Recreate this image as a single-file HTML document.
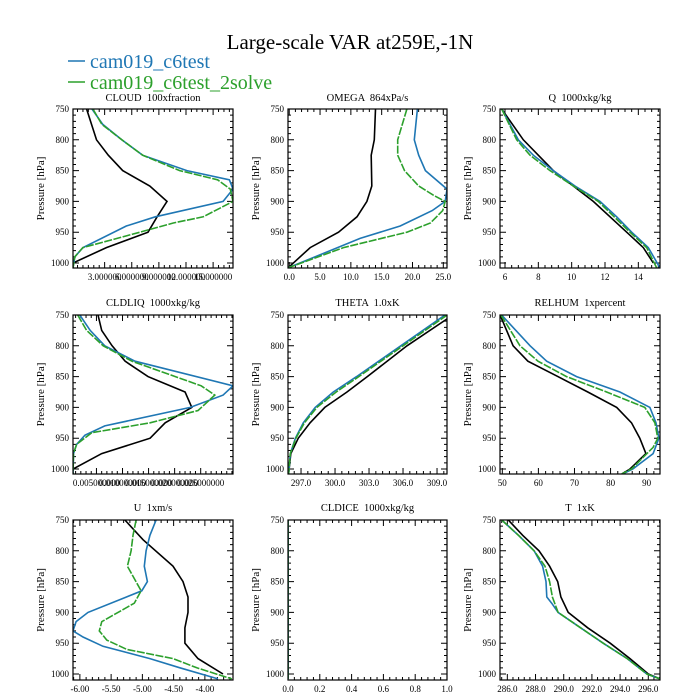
<!DOCTYPE html>
<html><head><meta charset="utf-8"><style>
html,body{margin:0;padding:0;background:#fff;}
svg{display:block;font-family:"Liberation Serif",serif;}
text{white-space:pre;}
</style></head><body>
<svg id="chart" width="700" height="700" viewBox="0 0 700 700">
<text x="350" y="49" text-anchor="middle" font-size="21">Large-scale VAR at259E,-1N</text>
<g>
<line x1="68" y1="61" x2="85" y2="61" stroke="#1f77b4" stroke-width="1.5"/>
<text x="90" y="68" font-size="20" fill="#1f77b4">cam019_c6test</text>
<line x1="68" y1="82" x2="85" y2="82" stroke="#2ca02c" stroke-width="1.5"/>
<text x="90" y="89" font-size="20" fill="#2ca02c">cam019_c6test_2solve</text>
</g>
</svg>
<script>
// ---- data ----
const cloudP_ref=[750,800,825,850,875,900,925,950,975,1000];
const cloudV_ref=[1.0,2.1,3.4,5.0,8.0,9.9,8.8,7.8,3.2,-0.5];
const cloudP_a=[750,775,800,825,850,865,880,900,925,940,975,990,1008];
const cloudV_a=[1.6,2.8,4.9,7.2,12.1,16.8,17.2,16.1,8.6,5.4,0.6,-0.3,-0.5];
const cloudP_b=[750,775,800,825,850,865,880,900,925,935,950,975,990,1008];
const cloudV_b=[1.7,2.7,4.9,7.2,11.3,15.5,16.9,17.2,13.9,10.6,6.9,0.6,-0.3,-0.5];
const cloudTicks=[3,6,9,12,15];
const cloudTickLabels=["3.000000","6.000000","9.000000","12.000000","15.000000"];

const omegaP_ref=[750,800,825,875,900,925,950,975,1008];
const omegaV_ref=[14.0,13.8,13.3,13.4,12.6,11.0,8.0,3.4,-0.2];
const omegaP_a=[750,800,825,850,880,900,915,940,960,1008];
const omegaV_a=[20.8,20.3,21.0,22.1,25.6,25.3,23.2,18.0,11.5,-0.2];
const omegaP_b=[750,800,825,850,875,890,900,915,935,950,975,1008];
const omegaV_b=[19.1,17.6,17.6,18.7,21.0,23.4,25.3,24.9,22.9,19.1,8.8,-0.2];
const omegaTicks=[0,5,10,15,20,25];
const omegaTickLabels=["0.0","5.0","10.0","15.0","20.0","25.0"];

const qP_ref=[750,800,850,900,950,975,1000];
const qV_ref=[5.8,7.1,8.9,11.3,13.3,14.3,14.9];
const qP_a=[750,800,825,850,875,900,925,950,975,1008];
const qV_a=[5.8,6.8,7.7,8.9,10.2,11.7,12.7,13.6,14.6,15.3];
const qP_b=[750,800,825,850,875,900,950,975,1008];
const qV_b=[5.8,6.7,7.5,8.7,10.1,11.6,13.5,14.5,15.1];
const qTicks=[6,8,10,12,14];
const qTickLabels=["6","8","10","12","14"];

const liqP_ref=[750,775,800,825,850,875,900,925,950,975,1000];
const liqV_ref=[0.0053,0.0060,0.0080,0.0105,0.0149,0.0220,0.0233,0.0182,0.0153,0.0060,0.0005];
const liqP_a=[750,775,800,825,865,880,900,930,945,960,975,1008];
const liqV_a=[0.0018,0.0038,0.0066,0.0124,0.0312,0.0293,0.0230,0.0066,0.0028,0.0012,0.0006,0.0005];
const liqP_b=[750,775,800,825,865,880,905,925,941,960,975,1008];
const liqV_b=[0.0014,0.0031,0.0063,0.0118,0.0251,0.0277,0.0245,0.0153,0.0041,0.0012,0.0006,0.0005];
const liqTicks=[0.005,0.010,0.015,0.020,0.025];
const liqTickLabels=["0.005000000","0.010000000","0.015000000","0.020000000","0.025000000"];

const thetaP_ref=[750,800,850,875,900,925,950,975,1008];
const thetaV_ref=[310.4,306.35,302.85,301.06,299.1,297.8,296.76,296.1,295.9];
const thetaP_a=[750,800,850,875,900,925,950,975,1008];
const thetaV_a=[309.7,305.8,301.9,299.85,298.25,297.2,296.5,296.05,295.9];
const thetaP_b=[750,800,850,875,900,925,950,975,1008];
const thetaV_b=[309.9,306.0,302.1,300.1,298.4,297.3,296.55,296.05,295.9];
const thetaTicks=[297,300,303,306,309];
const thetaTickLabels=["297.0","300.0","303.0","306.0","309.0"];

const rhP_ref=[750,800,825,850,875,900,925,950,975,1000,1008];
const rhV_ref=[49.4,53.0,57.1,65.4,73.7,81.7,85.8,88.1,89.8,85.4,83.1];
const rhP_a=[750,800,825,850,875,900,925,950,975,1000,1008];
const rhV_a=[49.8,57.7,62.3,70.6,82.6,90.9,92.6,93.4,91.8,86.2,83.4];
const rhP_b=[750,800,825,850,875,900,925,950,965,1000,1008];
const rhV_b=[49.6,54.9,59.9,67.8,78.9,89.5,92.3,93.1,91.8,85.8,83.1];
const rhTicks=[50,60,70,80,90];
const rhTickLabels=["50","60","70","80","90"];

const uP_ref=[750,782,825,850,875,900,925,950,975,1000];
const uV_ref=[-5.28,-4.99,-4.51,-4.35,-4.27,-4.27,-4.32,-4.32,-4.11,-3.71];
const uP_a=[750,775,800,825,850,865,900,915,930,940,955,975,990,1008];
const uV_a=[-4.78,-4.88,-4.94,-4.97,-4.92,-5.01,-5.87,-6.06,-6.11,-5.95,-5.63,-4.88,-4.40,-3.79];
const uP_b=[750,775,800,825,865,885,915,930,945,960,975,990,1008];
const uV_b=[-5.10,-5.15,-5.18,-5.24,-5.02,-5.13,-5.65,-5.69,-5.57,-5.25,-4.51,-4.13,-3.57];
const uTicks=[-6,-5.5,-5,-4.5,-4];
const uTickLabels=["-6.00","-5.50","-5.00","-4.50","-4.00"];

const iceP_ref=[750,1008];
const iceV_ref=[0,0];
const iceP_a=[750,1008];
const iceV_a=[0,0];
const iceP_b=[750,1008];
const iceV_b=[0,0];
const iceTicks=[0,0.2,0.4,0.6,0.8,1.0];
const iceTickLabels=["0.0","0.2","0.4","0.6","0.8","1.0"];

const tP_ref=[750,775,800,825,850,875,900,925,950,975,1000,1008];
const tV_ref=[286.07,287.1,288.25,289.0,289.57,289.8,290.32,291.7,293.3,294.7,296.0,296.83];
const tP_a=[750,775,800,825,850,875,885,900,925,950,975,1000,1008];
const tV_a=[285.6,286.8,287.9,288.5,288.74,288.8,289.15,289.6,291.2,292.8,294.5,295.9,296.83];
const tP_b=[750,775,800,825,850,875,900,925,950,975,1000,1008];
const tV_b=[285.6,286.8,287.9,288.67,289.0,289.2,289.6,291.2,292.8,294.5,295.9,296.83];
const tTicks=[286,288,290,292,294,296];
const tTickLabels=["286.0","288.0","290.0","292.0","294.0","296.0"];

const yTicks=[750,800,850,900,950,1000];

// ---- layout ----
const NS="http://www.w3.org/2000/svg";
const svg=document.getElementById('chart');
const colX=[[73,233],[288,447],[500,660]];
const rowY=[[109,263,268],[315,469,474],[520,674,680]];
const titleY=[101,306,511];
function mk(tag,attrs,parent){const e=document.createElementNS(NS,tag);for(const k in attrs)e.setAttribute(k,attrs[k]);(parent||svg).appendChild(e);return e;}

const panels=[
 {name:"cloud",title:"CLOUD  100xfraction",r:0,c:0,xmin:-0.5,xmax:17.2,ticks:cloudTicks,labels:cloudTickLabels,ref:[cloudP_ref,cloudV_ref],a:[cloudP_a,cloudV_a],b:[cloudP_b,cloudV_b]},
 {name:"omega",title:"OMEGA  864xPa/s",r:0,c:1,xmin:-0.2,xmax:25.6,ticks:omegaTicks,labels:omegaTickLabels,ref:[omegaP_ref,omegaV_ref],a:[omegaP_a,omegaV_a],b:[omegaP_b,omegaV_b]},
 {name:"q",title:"Q  1000xkg/kg",r:0,c:2,xmin:5.7,xmax:15.3,ticks:qTicks,labels:qTickLabels,ref:[qP_ref,qV_ref],a:[qP_a,qV_a],b:[qP_b,qV_b]},
 {name:"cldliq",title:"CLDLIQ  1000xkg/kg",r:1,c:0,xmin:0.0005,xmax:0.0312,ticks:liqTicks,labels:liqTickLabels,ref:[liqP_ref,liqV_ref],a:[liqP_a,liqV_a],b:[liqP_b,liqV_b]},
 {name:"theta",title:"THETA  1.0xK",r:1,c:1,xmin:295.85,xmax:309.88,ticks:thetaTicks,labels:thetaTickLabels,ref:[thetaP_ref,thetaV_ref],a:[thetaP_a,thetaV_a],b:[thetaP_b,thetaV_b]},
 {name:"relhum",title:"RELHUM  1xpercent",r:1,c:2,xmin:49.36,xmax:93.7,ticks:rhTicks,labels:rhTickLabels,ref:[rhP_ref,rhV_ref],a:[rhP_a,rhV_a],b:[rhP_b,rhV_b]},
 {name:"u",title:"U  1xm/s",r:2,c:0,xmin:-6.11,xmax:-3.55,ticks:uTicks,labels:uTickLabels,ref:[uP_ref,uV_ref],a:[uP_a,uV_a],b:[uP_b,uV_b]},
 {name:"cldice",title:"CLDICE  1000xkg/kg",r:2,c:1,xmin:0,xmax:1,ticks:iceTicks,labels:iceTickLabels,ref:[iceP_ref,iceV_ref],a:[iceP_a,iceV_a],b:[iceP_b,iceV_b]},
 {name:"t",title:"T  1xK",r:2,c:2,xmin:285.48,xmax:296.83,ticks:tTicks,labels:tTickLabels,ref:[tP_ref,tV_ref],a:[tP_a,tV_a],b:[tP_b,tV_b]}
];

panels.forEach(p=>{
 const [x0,x1]=colX[p.c];const [y750,y1000,yb]=rowY[p.r];
 const xs=v=>x0+(v-p.xmin)/(p.xmax-p.xmin)*(x1-x0);
 const ys=pr=>y750+(pr-750)/250*(y1000-y750);
 const g=mk('g',{});
 
 
 const t=mk('text',{x:(x0+x1)/2,y:titleY[p.r],'text-anchor':'middle','font-size':10.5},g);
 t.textContent=p.title;
 
 
 const yt=mk('text',{transform:`translate(${x0-29},${(y750+yb)/2}) rotate(-90)`,'text-anchor':'middle','font-size':11},g);
 yt.textContent="Pressure [hPa]";
 
 
 const cp=mk('clipPath',{id:'clip-'+p.name},g);
 mk('rect',{x:x0,y:y750,width:x1-x0,height:yb-y750},cp);
 let d="";
 for(let pr=750;pr<=1000;pr+=10){const y=ys(pr);const L=(pr%50===0)?6:3;d+=`M${x0} ${y}h${L}M${x1} ${y}h${-L}`;}
 const step=(p.ticks[1]-p.ticks[0])/5;
 for(let v=p.ticks[0]-5*step;v<=p.xmax+1e-9;v+=step){if(v<p.xmin-1e-9)continue;const x=xs(v);const major=p.ticks.some(tk=>Math.abs(tk-v)<step/10);const L=major?6:3;d+=`M${x} ${yb}v${-L}M${x} ${y750}v${L}`;}
 const tk=mk('path',{d:d,stroke:'#000','stroke-width':1,fill:'none'},g);
 
 
 yTicks.forEach(pr=>{const l=mk('text',{x:x0-4,y:ys(pr)+3,'text-anchor':'end','font-size':9},g);l.textContent=String(pr);
  
  });
 p.ticks.forEach((v,i)=>{const l=mk('text',{x:xs(v),y:yb+12,'text-anchor':'middle','font-size':9},g);l.textContent=p.labels[i];
  
  });
 const series=[[p.ref,'#000','none','ref'],[p.a,'#1f77b4','none','c6test'],[p.b,'#2ca02c','8,1.5','2solve']];
 series.forEach(([s,col,dash,nm])=>{
  const pts=s[0].map((pr,i)=>xs(s[1][i]).toFixed(1)+','+ys(pr).toFixed(1)).join(' ');
  const pl=mk('polyline',{points:pts,fill:'none',stroke:col,'stroke-width':1.6,'stroke-dasharray':dash,'clip-path':`url(#clip-${p.name})`},g);
  
  
 });
 const bx=mk('rect',{x:x0,y:y750,width:x1-x0,height:yb-y750,fill:'none',stroke:'#000','stroke-width':1.2},g);
 
 
});
</script>
</body></html>
